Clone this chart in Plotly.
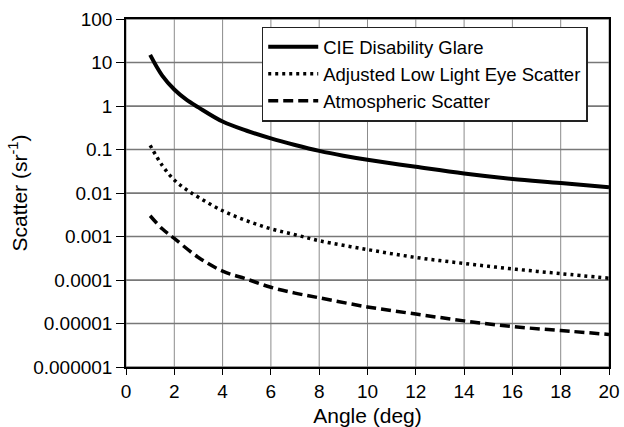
import plotly.graph_objects as go

# Data
cie_angle = [1, 1.5, 2, 2.5, 3, 4, 5, 6, 7, 8, 9, 10, 12, 14, 16, 18, 20]
cie_scatter = [15, 5.0, 2.4, 1.4, 0.93, 0.44, 0.27, 0.18, 0.127, 0.093, 0.072,
               0.058, 0.040, 0.028, 0.021, 0.017, 0.0135]

eye_angle = [1, 1.5, 2, 2.5, 3, 4, 5, 6, 7, 8, 10, 12, 14, 16, 18, 20]
eye_scatter = [0.125, 0.043, 0.020, 0.012, 0.008, 0.0039, 0.0023, 0.0015,
               0.0011, 0.0008, 0.0005, 0.00033, 0.00024, 0.00018, 0.00014, 0.00011]

atm_angle = [1, 1.5, 2, 3, 4, 5, 6, 7, 8, 10, 12, 14, 16, 18, 20]
atm_scatter = [0.0030, 0.0015, 0.0009, 0.00033, 0.00016, 0.000105, 0.000068,
               0.000050, 0.000039, 0.000024, 0.0000165, 0.0000115, 0.0000085,
               0.0000069, 0.0000056]

y_tickvals = [100, 10, 1, 0.1, 0.01, 0.001, 0.0001, 0.00001, 0.000001]
y_ticktext = ["100", "10", "1", "0.1", "0.01", "0.001", "0.0001", "0.00001", "0.000001"]
x_tickvals = [0, 2, 4, 6, 8, 10, 12, 14, 16, 18, 20]

FONT = "Liberation Sans, Arial, Helvetica, sans-serif"
GRID = "rgb(140,140,140)"
HGRID = "rgb(120,120,120)"

x_lo, x_hi = x_tickvals[0], x_tickvals[-1]
y_lo, y_hi = min(y_tickvals), max(y_tickvals)

fig = go.Figure()

# vertical grid lines, built from the x tick values
grid_x, grid_y = [], []
for xv in x_tickvals:
    grid_x += [xv, xv, None]
    grid_y += [y_lo, y_hi, None]
fig.add_trace(go.Scatter(x=grid_x, y=grid_y, mode="lines", showlegend=False,
                         hoverinfo="skip", line=dict(color=GRID, width=1)))

# horizontal grid lines, one trace per y tick value
for yv in y_tickvals:
    fig.add_trace(go.Scatter(x=[x_lo, x_hi], y=[yv, yv],
                             mode="lines", showlegend=False, hoverinfo="skip",
                             line=dict(color=HGRID, width=1.5)))

fig.add_trace(go.Scatter(x=cie_angle, y=cie_scatter, mode="lines",
                         name="CIE Disability Glare", line_shape="spline",
                         line=dict(color="black", width=4)))
fig.add_trace(go.Scatter(x=eye_angle, y=eye_scatter, mode="lines",
                         name="Adjusted Low Light Eye Scatter", line_shape="spline",
                         line=dict(color="black", width=3.5, dash="3px,4px")))
fig.add_trace(go.Scatter(x=atm_angle, y=atm_scatter, mode="lines",
                         name="Atmospheric Scatter", line_shape="spline",
                         line=dict(color="black", width=3.5, dash="10px,5px")))

fig.update_layout(
    template="none",
    width=624, height=427,
    margin=dict(l=126, r=15, t=19, b=60),
    paper_bgcolor="white", plot_bgcolor="white",
    font=dict(family=FONT, size=18, color="black"),
    showlegend=True,
    legend=dict(x=0.281, y=0.978, xanchor="left", yanchor="top",
                bordercolor="#222", borderwidth=1.5, bgcolor="white",
                font=dict(size=18.5), tracegroupgap=0, itemwidth=50),
)
fig.update_xaxes(range=[x_lo, x_hi], tickmode="array", tickvals=x_tickvals,
                 showgrid=False, showline=True, linecolor="black",
                 linewidth=1.5, mirror=True, ticks="outside", ticklen=6,
                 tickcolor="black", zeroline=False,
                 title=dict(text="Angle (deg)", font=dict(size=21), standoff=12),
                 tickfont=dict(size=19))
fig.update_yaxes(type="log", range=[-6, 2], tickmode="array", tickvals=y_tickvals,
                 ticktext=y_ticktext, showgrid=True, gridcolor=HGRID, gridwidth=1,
                 showline=True,
                 linecolor="black", linewidth=1.5, mirror=True, ticks="outside",
                 ticklen=8, tickcolor="black", zeroline=False,
                 title=dict(text="Scatter (sr<sup>-1</sup>)", font=dict(size=21), standoff=0),
                 tickfont=dict(size=19))

fig.write_html("out.html")
